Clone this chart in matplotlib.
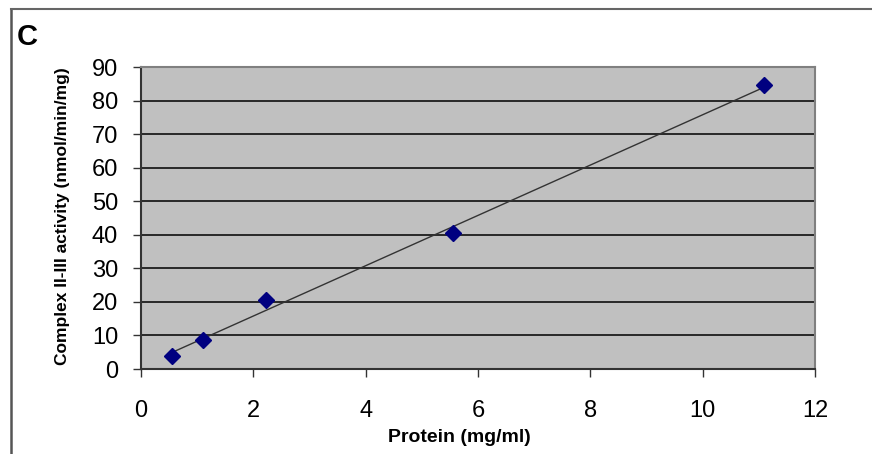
import matplotlib
matplotlib.use("Agg")
import matplotlib.pyplot as plt
from matplotlib.lines import Line2D
import numpy as np

protein = [0.556, 1.11, 2.22, 5.56, 11.1]
activity = [4.0, 8.5, 20.5, 40.5, 84.5]
x_ticks = [0, 2, 4, 6, 8, 10, 12]
y_ticks = [0, 10, 20, 30, 40, 50, 60, 70, 80, 90]

plt.rcParams['font.family'] = ['Liberation Sans', 'DejaVu Sans']

fig = plt.figure(figsize=(8.72, 4.54), dpi=100)
fig.patch.set_facecolor('white')
ax = fig.add_axes([141/872, 1-369/454, (815-141)/872, (369-67)/454])
ax.set_facecolor('#C0C0C0')

ax.set_xlim(0, 12)
ax.set_ylim(0, 90)
ax.set_xticks(x_ticks)
ax.set_yticks(y_ticks)
ax.yaxis.grid(True, color='black', linewidth=1.1)
ax.set_axisbelow(True)

# trendline (least squares fit)
slope, intercept = np.polyfit(protein, activity, 1)
xs = np.array([min(protein), max(protein)])
ax.plot(xs, slope*xs + intercept, color='#333333', linewidth=1.0, zorder=3)
ax.plot(protein, activity, linestyle='none', marker='D', markersize=8.5,
        color='#000080', markeredgecolor='#000080', zorder=4)

for s in ax.spines.values():
    s.set_color('#808080')
    s.set_linewidth(1.5)
ax.spines['left'].set_color('#333333')
ax.spines['bottom'].set_color('#333333')

ax.tick_params(axis='both', direction='out', length=5.5, width=1, color='#333333',
               labelsize=17)
ax.tick_params(axis='y', pad=11)
ax.tick_params(axis='x', pad=17)

fig.text(459/872, 1-437/454, 'Protein (mg/ml)', fontsize=14, fontweight='bold',
         ha='center', va='center')
fig.text(62/872, 1-216/454, 'Complex II-III activity (nmol/min/mg)', fontsize=12.5,
         fontweight='bold', rotation=90, ha='center', va='center')

fig.text(17/872, 1-37/454, 'C', fontsize=21, fontweight='bold', va='center', ha='left')

# outer frame lines (left and top)
fig.add_artist(Line2D([10.5/872, 10.5/872], [0, 1-8.5/454], transform=fig.transFigure,
                      color='#555555', linewidth=1.8))
fig.add_artist(Line2D([10.5/872, 1], [1-8.5/454, 1-8.5/454], transform=fig.transFigure,
                      color='#666666', linewidth=1.5))

fig.savefig('out.png', dpi=100)
